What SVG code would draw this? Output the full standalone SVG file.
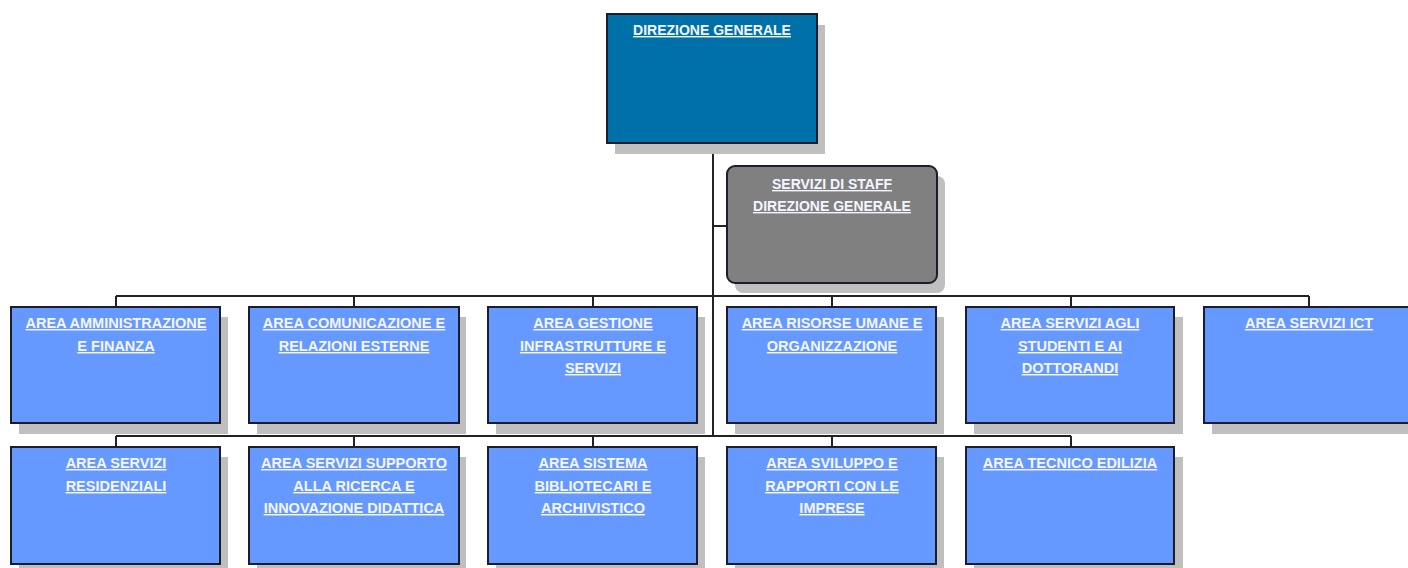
<svg xmlns="http://www.w3.org/2000/svg" width="1408" height="568" viewBox="0 0 1408 568">
<style>
.shadow{fill:#bfbfbf}
.area{fill:#6699ff;stroke:#1c1c2c;stroke-width:2}
.top{fill:#0070a8;stroke:#1c1c2c;stroke-width:2}
.staff{fill:#808080;stroke:#1c1c2c;stroke-width:2}
.conn{stroke:#222;stroke-width:2;fill:none}
text{font-family:"Liberation Sans",Arial,sans-serif;font-weight:bold;font-size:14.5px;fill:#f4f6ff;text-anchor:middle;text-decoration:underline}
</style>
<rect width="1408" height="568" fill="#ffffff"/>
<g id="connectors">
<path class="conn" d="M713 143V436M713 226H727"/>
<path class="conn" d="M116 296H1309M116 296V307M354 296V307M593 296V307M832 296V307M1071 296V307M1309 296V307"/>
<path class="conn" d="M116 436H1071M116 436V447M354 436V447M593 436V447M832 436V447M1071 436V447"/>
</g>
<g id="direzione-generale">
<rect class="shadow" x="615" y="25" width="210" height="129"/>
<rect class="top" x="607" y="14" width="210" height="129"/>
<text x="712" y="35" style="font-size:14px">DIREZIONE GENERALE</text>
</g>
<g id="servizi-staff">
<rect class="shadow" x="735" y="176" width="210" height="117" rx="8"/>
<rect class="staff" x="727" y="166" width="210" height="117" rx="8"/>
<text x="832" y="189" style="font-size:14px">SERVIZI DI STAFF</text>
<text x="832" y="211" style="font-size:14px">DIREZIONE GENERALE</text>
</g>
<g id="area-amministrazione">
<rect class="shadow" x="19" y="317" width="209" height="117"/>
<rect class="area" x="11" y="307" width="209" height="116"/>
<text x="116" y="328">AREA AMMINISTRAZIONE</text>
<text x="116" y="351">E FINANZA</text>
</g>
<g id="area-comunicazione">
<rect class="shadow" x="257" y="317" width="209" height="117"/>
<rect class="area" x="249" y="307" width="210" height="116"/>
<text x="354" y="328">AREA COMUNICAZIONE E</text>
<text x="354" y="351">RELAZIONI ESTERNE</text>
</g>
<g id="area-gestione">
<rect class="shadow" x="496" y="317" width="209" height="117"/>
<rect class="area" x="488" y="307" width="209" height="116"/>
<text x="593" y="328">AREA GESTIONE</text>
<text x="593" y="351">INFRASTRUTTURE E</text>
<text x="593" y="373">SERVIZI</text>
</g>
<g id="area-risorse-umane">
<rect class="shadow" x="735" y="317" width="209" height="117"/>
<rect class="area" x="727" y="307" width="209" height="116"/>
<text x="832" y="328">AREA RISORSE UMANE E</text>
<text x="832" y="351">ORGANIZZAZIONE</text>
</g>
<g id="area-servizi-studenti">
<rect class="shadow" x="974" y="317" width="209" height="117"/>
<rect class="area" x="966" y="307" width="208" height="116"/>
<text x="1070" y="328">AREA SERVIZI AGLI</text>
<text x="1070" y="351">STUDENTI E AI</text>
<text x="1070" y="373">DOTTORANDI</text>
</g>
<g id="area-servizi-ict">
<rect class="shadow" x="1212" y="317" width="209" height="117"/>
<rect class="area" x="1204" y="307" width="210" height="116"/>
<text x="1309" y="328">AREA SERVIZI ICT</text>
</g>
<g id="area-servizi-residenziali">
<rect class="shadow" x="19" y="457" width="209" height="117"/>
<rect class="area" x="11" y="447" width="209" height="117"/>
<text x="116" y="468">AREA SERVIZI</text>
<text x="116" y="491">RESIDENZIALI</text>
</g>
<g id="area-supporto-ricerca">
<rect class="shadow" x="257" y="457" width="209" height="117"/>
<rect class="area" x="249" y="447" width="210" height="117"/>
<text x="354" y="468">AREA SERVIZI SUPPORTO</text>
<text x="354" y="491">ALLA RICERCA E</text>
<text x="354" y="513">INNOVAZIONE DIDATTICA</text>
</g>
<g id="area-sistema-bibliotecari">
<rect class="shadow" x="496" y="457" width="209" height="117"/>
<rect class="area" x="488" y="447" width="209" height="117"/>
<text x="593" y="468">AREA SISTEMA</text>
<text x="593" y="491">BIBLIOTECARI E</text>
<text x="593" y="513">ARCHIVISTICO</text>
</g>
<g id="area-sviluppo-imprese">
<rect class="shadow" x="735" y="457" width="209" height="117"/>
<rect class="area" x="727" y="447" width="209" height="117"/>
<text x="832" y="468">AREA SVILUPPO E</text>
<text x="832" y="491">RAPPORTI CON LE</text>
<text x="832" y="513">IMPRESE</text>
</g>
<g id="area-tecnico-edilizia">
<rect class="shadow" x="974" y="457" width="209" height="117"/>
<rect class="area" x="966" y="447" width="208" height="117"/>
<text x="1070" y="468">AREA TECNICO EDILIZIA</text>
</g>
</svg>
